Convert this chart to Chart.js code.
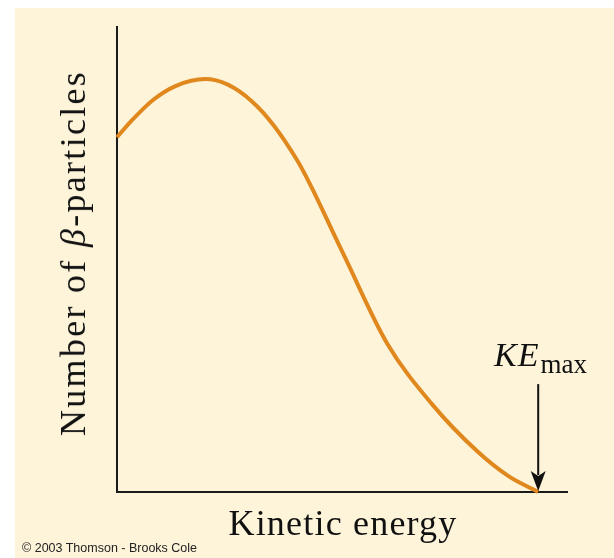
<!DOCTYPE html>
<html>
<head>
<meta charset="utf-8">
<script src="https://cdn.jsdelivr.net/npm/chart.js@4.4.1/dist/chart.umd.min.js"></script>
<style>
    html, body { margin: 0; padding: 0; background: #fff; }
    #wrap { position: relative; width: 614px; height: 558px; overflow: hidden; }
    #panel { position: absolute; left: 15px; top: 8px; right: 0; bottom: 0; background: #fdf4d9; }
    #spectrum { position: absolute; left: 0; top: 0; }
    .lbl { position: absolute; font-family: "Liberation Serif", "DejaVu Serif", serif; color: #111; white-space: nowrap; }
    #yTitle { left: 73px; top: 253px; font-size: 36px; letter-spacing: 2.3px; transform: translate(-50%, -50%) rotate(-90deg); }
    #xTitle { left: 343px; top: 523px; font-size: 36px; letter-spacing: 1.2px; transform: translate(-50%, -50%); }
    #keMax { left: 494px; top: 336px; font-size: 34px; }
    #keMax i { letter-spacing: 1px; }
    #keMax sub { font-style: normal; font-size: 27px; vertical-align: -7px; margin-left: 1px; }
    #credit { position: absolute; left: 22px; top: 541px; font-family: "Liberation Sans", Arial, sans-serif; font-size: 12.5px; color: #222; }
</style>
</head>
<body>
<div id="wrap">
    <div id="panel"></div>
    <canvas id="spectrum" width="614" height="558"></canvas>
    <div class="lbl" id="yTitle">Number of <i>β</i>-particles</div>
    <div class="lbl" id="xTitle">Kinetic energy</div>
    <div class="lbl" id="keMax"><i>KE</i><sub>max</sub></div>
    <div id="credit">© 2003 Thomson - Brooks Cole</div>
</div>
<script>
// Beta spectrum (arbitrary units, 0-100 on both axes)
const kineticEnergy = [0, 3, 8, 13, 19.6, 30, 40, 50, 60, 70, 80, 87, 93.6];
const particleCount = [76.3, 79.6, 84.3, 87.3, 88.8, 84, 71.4, 51.8, 32, 18.9, 8.8, 3.4, 0];

// KE max marker
const keMaxValue = 93.6;
const arrowTopValue = 23.2;

const points = kineticEnergy.map((x, i) => ({ x: x, y: particleCount[i] }));

/**
 * Draws the downward arrow pointing at KE max
 */
const keMaxArrow = {
    id: 'keMaxArrow',
    afterDatasetsDraw(chart) {
        const ctx = chart.ctx;
        const xs = chart.scales.x;
        const ys = chart.scales.y;
        const x = xs.getPixelForValue(keMaxValue);
        const top = ys.getPixelForValue(arrowTopValue);
        const tip = ys.getPixelForValue(0) - 1;

        ctx.save();
        ctx.strokeStyle = '#111';
        ctx.fillStyle = '#111';
        ctx.lineWidth = 2;
        ctx.beginPath();
        ctx.moveTo(x, top);
        ctx.lineTo(x, tip - 16);
        ctx.stroke();

        ctx.beginPath();
        ctx.moveTo(x, tip);
        ctx.lineTo(x - 7.5, tip - 20);
        ctx.lineTo(x, tip - 15);
        ctx.lineTo(x + 7.5, tip - 20);
        ctx.closePath();
        ctx.fill();
        ctx.restore();
    }
};

new Chart(document.getElementById('spectrum'), {
    type: 'line',
    data: {
        datasets: [{
            data: points,
            borderColor: '#e0871d',
            borderWidth: 4,
            fill: false,
            cubicInterpolationMode: 'monotone',
            pointRadius: 0,
            clip: 10
        }]
    },
    options: {
        responsive: false,
        animation: false,
        layout: { padding: { left: 109, top: 27, right: 47, bottom: 58 } },
        scales: {
            x: {
                type: 'linear',
                min: 0,
                max: 100,
                grid: { display: false },
                ticks: { display: false },
                border: { display: true, color: '#1a1a1a', width: 2 }
            },
            y: {
                min: 0,
                max: 100,
                grid: { display: false },
                ticks: { display: false },
                border: { display: true, color: '#1a1a1a', width: 2 }
            }
        },
        plugins: {
            legend: { display: false },
            tooltip: { enabled: false }
        }
    },
    plugins: [keMaxArrow]
});
</script>
</body>
</html>
